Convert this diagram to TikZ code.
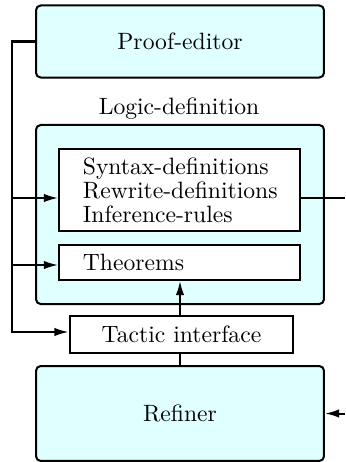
\documentclass[tikz,border=0pt]{standalone}
\usetikzlibrary{arrows.meta}
\definecolor{boxfill}{RGB}{224,255,255}
\begin{document}
\begin{tikzpicture}[x=0.4233pt,y=-0.4233pt,
  line width=0.85pt,
  bigbox/.style={draw, fill=boxfill, rounded corners=2pt, minimum width=121.9pt, inner sep=0pt, font=\fontsize{10}{10.2}\selectfont},
  plainbox/.style={draw, fill=white, inner sep=0pt, font=\fontsize{10}{10.2}\selectfont},
  leftbox/.style={plainbox, minimum width=102pt, text width=102pt, align=left},
  lbl/.style={inner sep=0pt, font=\fontsize{10}{10.2}\selectfont},
  arr/.style={-{Latex[length=6pt,width=3.6pt]}}]
\useasboundingbox (0,0) rectangle (345,462);
\node[bigbox, minimum height=30.5pt] (pe) at (180,41.5) {Proof-editor};
\node[lbl] (ldl) at (179,109) {Logic-definition};
\node[bigbox, minimum height=75.8pt] (ld) at (180,214.5) {};
\node[leftbox, minimum height=34.7pt] (defs) at (179.5,190) {\hspace*{10.1pt}Syntax-definitions\\\hspace*{10.1pt}Rewrite-definitions\\\hspace*{10.1pt}Inference-rules};
\node[leftbox, minimum height=14.8pt] (th) at (179.5,262.5) {\hspace*{10.1pt}Theorems};
\node[plainbox, minimum width=94.8pt, minimum height=15.7pt] (ti) at (181.5,334.5) {Tactic interface};
\node[bigbox, minimum height=40.2pt] (ref) at (180,413.5) {Refiner};
\coordinate (l0) at (12,41.5);
\coordinate (l1) at (12,198);
\coordinate (l2) at (12,265);
\coordinate (l3) at (12,332);
\coordinate (r1) at (345,198);
\coordinate (r2) at (345,413.5);
\draw[arr] (pe.west) -- (l0) -- (l3) -- (l3 -| ti.west);
\draw[arr] (l1) -- (l1 -| defs.west);
\draw[arr] (l2) -- (l2 -| th.west);
\draw (r1 -| defs.east) -- (r1);
\draw[arr] (r2) -- (ref.east);
\draw[arr] (180,316) coordinate (tn) -- (tn |- th.south);
\draw (180,353) coordinate (ts) -- (ts |- ref.north);
\end{tikzpicture}
\end{document}
